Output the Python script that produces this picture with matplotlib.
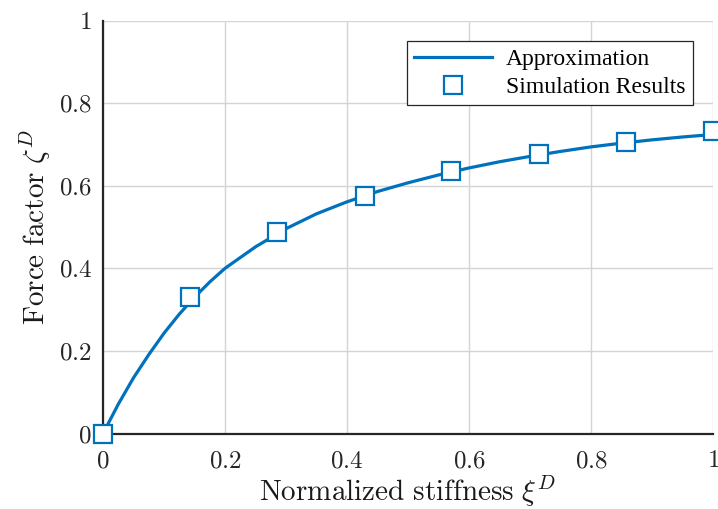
import numpy as np
import matplotlib.pyplot as plt
from matplotlib.ticker import FuncFormatter

plt.rcParams['mathtext.fontset'] = 'cm'
plt.rcParams['font.family'] = 'Liberation Serif'

# approximation curve
xi_fit = [0, 0.025, 0.05, 0.075, 0.1, 0.125, 0.15, 0.175, 0.2, 0.25, 0.3,
          0.35, 0.4, 0.45, 0.5, 0.55, 0.6, 0.65, 0.7, 0.75, 0.8, 0.85,
          0.9, 0.95, 1.0]
zeta_fit = [0, 0.071, 0.135, 0.191, 0.243, 0.289, 0.330, 0.367, 0.400,
            0.452, 0.496, 0.532, 0.561, 0.586, 0.607, 0.626, 0.643, 0.658,
            0.671, 0.683, 0.694, 0.703, 0.711, 0.718, 0.724]

# simulation results
xi_sim = [0, 0.143, 0.286, 0.429, 0.571, 0.714, 0.857, 1.0]
zeta_sim = [0, 0.330, 0.487, 0.576, 0.635, 0.677, 0.707, 0.732]

blue = '#0072BD'

fig = plt.figure(figsize=(7.18, 5.09), dpi=100)
ax = fig.add_axes([0.1435, 0.1483, 0.8495, 0.8114])

ax.plot(xi_fit, zeta_fit, color=blue, lw=2.3, label='Approximation',
        clip_on=False, zorder=3, solid_joinstyle='round')
ax.plot(xi_sim, zeta_sim, 's', color=blue, mfc='white', mec=blue,
        ms=12.5, mew=1.6, label='Simulation Results', clip_on=False,
        zorder=4)

ax.set_xlim(0, 1)
ax.set_ylim(0, 1)
ticks = [0, 0.2, 0.4, 0.6, 0.8, 1]
ax.set_xticks(ticks)
ax.set_yticks(ticks)
fmt = FuncFormatter(lambda v, p: '$%g$' % v)
ax.xaxis.set_major_formatter(fmt)
ax.yaxis.set_major_formatter(fmt)
ax.tick_params(direction='in', length=0, labelsize=18, colors='#262626')
ax.tick_params(axis='x', pad=12)
ax.tick_params(axis='y', pad=8)

ax.grid(True, color='#d4d4d4', lw=1.0)
ax.set_axisbelow(True)
for s in ['top', 'right']:
    ax.spines[s].set_visible(False)
for s in ['left', 'bottom']:
    ax.spines[s].set_color('#262626')
    ax.spines[s].set_linewidth(1.6)
    ax.spines[s].set_zorder(2.5)

ax.set_xlabel(r'$\mathrm{Normalized\ stiffness}\ \xi^D$', fontsize=21,
              labelpad=1, color='#1a1a1a')
ax.set_ylabel(r'$\mathrm{Force\ factor}\ \zeta^D$', fontsize=21,
              labelpad=4, color='#1a1a1a')

leg = ax.legend(loc='upper right', bbox_to_anchor=(0.9667, 0.950),
                borderaxespad=0, fontsize=17, fancybox=False,
                framealpha=1, edgecolor='#262626', handlelength=3.3,
                handletextpad=0.6, borderpad=0.3, labelspacing=0.3)
leg.get_frame().set_linewidth(0.9)

fig.savefig('out.png', dpi=100)
